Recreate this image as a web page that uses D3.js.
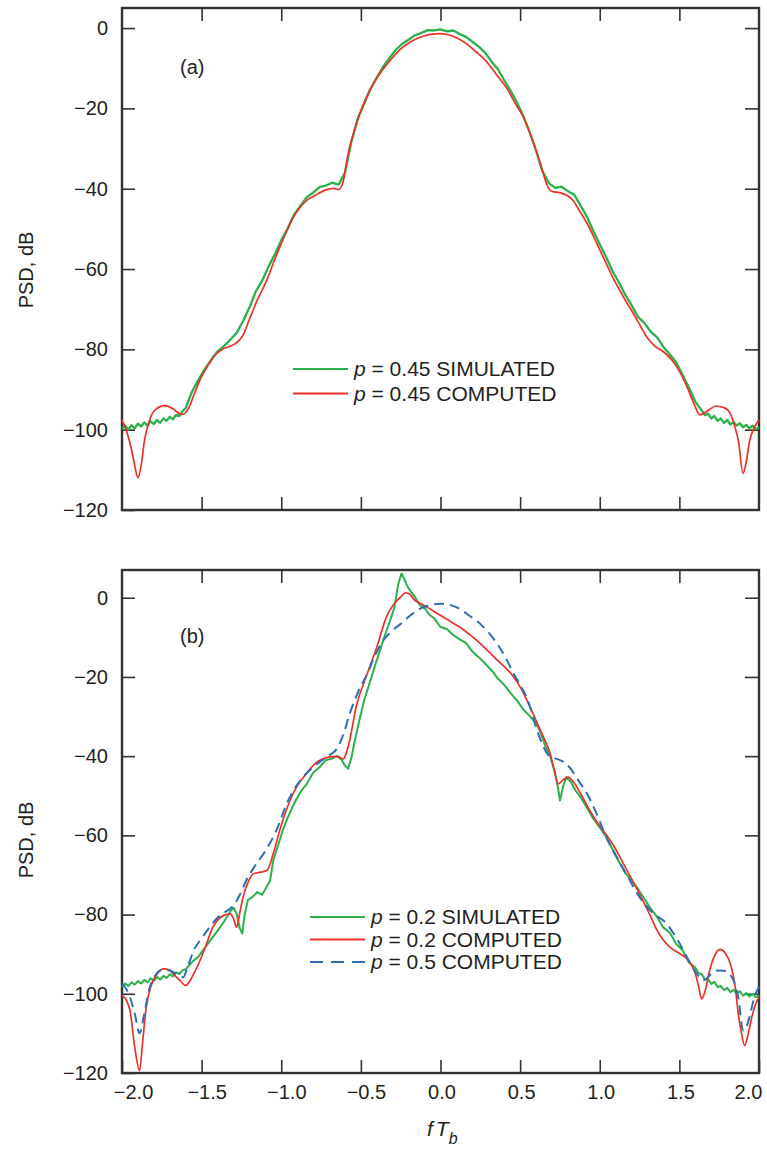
<!DOCTYPE html>
<html>
<head>
<meta charset="utf-8">
<script src="https://cdn.jsdelivr.net/npm/d3@7"></script>
<style>
body{margin:0;background:#fff}
svg{display:block;font-family:"Liberation Sans",Arial,Helvetica,sans-serif}
</style>
</head>
<body>
<svg id="chart" width="767" height="1150"></svg>
<script>
// ===== DATA =====
// x ticks (fT_b) and y ticks (PSD, dB)
const xTicks = [-2.0,-1.5,-1.0,-0.5,0.0,0.5,1.0,1.5,2.0]
const yTicks = [0,-20,-40,-60,-80,-100,-120]

// panel (a): p = 0.45
const aSim = [
[-2.00,-99.8],[-1.98,-99.0],[-1.96,-100.0],[-1.94,-98.9],[-1.92,-99.7],[-1.90,-98.5],[-1.88,-99.2],
[-1.86,-98.2],[-1.84,-99.0],[-1.82,-97.9],[-1.80,-98.6],[-1.78,-97.6],[-1.76,-98.3],[-1.74,-97.2],
[-1.72,-97.8],[-1.70,-96.8],[-1.68,-97.4],[-1.66,-96.3],[-1.64,-96.6],[-1.62,-95.4],[-1.60,-94.6],
[-1.56,-90.5],[-1.52,-87.6],[-1.48,-84.9],
[-1.44,-82.6],[-1.40,-80.5],[-1.36,-79.2],[-1.32,-77.6],[-1.28,-75.9],[-1.24,-73.0],[-1.20,-69.6],
[-1.16,-65.6],[-1.12,-62.9],[-1.08,-59.4],[-1.04,-56.3],[-1.00,-52.8],[-0.96,-49.9],[-0.92,-46.5],
[-0.88,-44.3],[-0.84,-42.1],[-0.80,-41.0],[-0.76,-39.6],[-0.72,-39.2],[-0.68,-38.5],[-0.64,-39.0],
[-0.60,-36.0],[-0.56,-28.4],[-0.52,-22.5],[-0.48,-18.9],[-0.44,-15.1],[-0.40,-12.3],[-0.36,-9.6],
[-0.32,-7.4],[-0.28,-5.4],[-0.24,-3.9],[-0.20,-2.9],[-0.16,-1.8],[-0.12,-1.2],[-0.08,-0.5],
[-0.04,-0.6],[0.00,-0.3],[0.04,-0.8],[0.08,-0.6],[0.12,-1.5],[0.16,-2.2],[0.20,-3.4],[0.24,-4.6],
[0.28,-6.1],[0.32,-8.3],[0.36,-10.2],[0.40,-13.0],[0.44,-15.6],[0.48,-18.5],[0.52,-21.9],
[0.56,-25.9],[0.60,-30.5],[0.64,-35.6],[0.68,-38.6],[0.72,-39.8],[0.76,-39.5],[0.80,-40.6],
[0.84,-41.5],[0.88,-44.2],[0.92,-47.0],[0.96,-50.6],[1.00,-53.8],[1.04,-57.0],[1.08,-60.5],
[1.12,-63.3],[1.16,-66.4],[1.20,-69.0],[1.24,-71.9],[1.28,-73.4],[1.32,-75.6],[1.36,-77.0],
[1.40,-79.4],[1.44,-81.3],[1.48,-83.2],[1.52,-86.4],[1.56,-89.5],[1.60,-93.0],[1.64,-95.2],
[1.66,-96.4],[1.68,-96.0],[1.70,-97.2],[1.72,-96.6],[1.74,-97.8],[1.76,-97.2],[1.78,-98.3],
[1.80,-97.6],[1.82,-98.7],[1.84,-98.1],[1.86,-99.0],[1.88,-98.4],[1.90,-99.4],[1.92,-98.8],
[1.94,-99.7],[1.96,-99.0],[1.98,-99.9],[2.00,-99.4]
]
const aComp = [
[-2.00,-97.6],[-1.97,-100.5],[-1.94,-105],[-1.92,-109],[-1.90,-112],[-1.88,-109],[-1.86,-103],
[-1.83,-98],[-1.79,-95],[-1.73,-94],[-1.68,-94.8],[-1.64,-96],[-1.62,-96.2],[-1.58,-94.5],
[-1.55,-91.5],[-1.51,-87.6],[-1.46,-84],[-1.41,-81.2],[-1.36,-79.8],[-1.32,-79.2],[-1.28,-78.3],
[-1.24,-76.5],[-1.20,-72.5],[-1.15,-67.7],[-1.09,-62.7],[-1.04,-57.5],[-0.99,-52.8],[-0.93,-47.5],
[-0.88,-44.5],[-0.83,-42.6],[-0.78,-41.5],[-0.72,-40.3],[-0.67,-39.9],[-0.64,-40.2],[-0.61,-38.0],
[-0.59,-33.5],[-0.57,-29.5],[-0.54,-25.5],[-0.51,-21.7],[-0.46,-16.8],[-0.42,-13.8],[-0.36,-10.2],
[-0.30,-7.3],[-0.25,-5.2],[-0.17,-3.0],[-0.10,-1.9],[-0.05,-1.5],[0.00,-1.4],[0.04,-1.6],
[0.10,-2.4],[0.16,-3.8],[0.22,-5.8],[0.29,-8.4],[0.35,-11.5],[0.42,-15.2],[0.47,-18.8],
[0.52,-22.1],[0.56,-26.0],[0.60,-30.4],[0.64,-35.5],[0.67,-39.2],[0.70,-40.7],[0.75,-41.0],
[0.80,-41.8],[0.83,-42.8],[0.88,-46.0],[0.92,-48.6],[0.98,-53.5],[1.04,-58.6],[1.09,-62.7],
[1.16,-67.7],[1.21,-71.0],[1.26,-74.5],[1.30,-77.2],[1.35,-79.3],[1.40,-80.6],[1.45,-82.5],
[1.50,-85.4],[1.55,-89.5],[1.59,-93.4],[1.63,-96.3],[1.68,-95.2],[1.73,-94.1],[1.78,-94.5],
[1.82,-96.0],[1.85,-99.5],[1.87,-102.6],[1.90,-110.9],[1.92,-108],[1.94,-103],[1.97,-99.5],
[2.00,-97.6]
]

// panel (b): p = 0.2 simulated, p = 0.2 computed, p = 0.5 computed
const bSim = [
[-2.00,-98.3],[-1.98,-97.4],[-1.96,-98.0],[-1.94,-97.1],[-1.92,-97.7],[-1.90,-96.8],[-1.88,-97.4],
[-1.86,-96.5],[-1.84,-97.1],[-1.82,-96.1],[-1.80,-96.7],[-1.78,-95.8],[-1.76,-96.4],[-1.74,-95.5],
[-1.72,-96.0],[-1.70,-95.1],[-1.68,-95.6],[-1.66,-94.6],[-1.64,-95.0],[-1.62,-94.1],[-1.60,-93.8],
[-1.56,-92.0],[-1.52,-90.6],[-1.48,-88.4],
[-1.44,-86.2],[-1.40,-84.1],[-1.36,-81.8],[-1.32,-79.2],[-1.30,-78.2],[-1.28,-79.8],[-1.26,-83.5],
[-1.245,-84.8],[-1.23,-80.0],[-1.21,-76.4],[-1.18,-75.5],[-1.15,-74.3],[-1.12,-75.0],[-1.10,-73.6],
[-1.07,-71.4],[-1.05,-66.3],[-1.02,-62.5],[-0.99,-58.7],[-0.96,-55.6],[-0.92,-52.0],[-0.88,-49.1],
[-0.84,-47.0],[-0.80,-44.2],[-0.76,-42.8],[-0.72,-41.0],[-0.68,-40.6],[-0.65,-39.9],[-0.62,-41.0],
[-0.60,-42.4],[-0.58,-43.2],[-0.56,-40.5],[-0.54,-36.5],[-0.51,-31.0],[-0.48,-26.0],[-0.44,-20.9],
[-0.41,-17.0],[-0.38,-13.3],[-0.35,-9.6],[-0.32,-6.2],[-0.29,-2.5],[-0.265,3.5],[-0.245,6.1],
[-0.23,5.0],[-0.21,3.0],[-0.19,1.8],[-0.16,0.2],[-0.13,-1.9],[-0.10,-2.6],[-0.07,-4.3],
[-0.04,-5.2],[0.00,-7.4],[0.04,-7.9],[0.08,-9.4],[0.12,-10.5],[0.16,-11.4],[0.20,-13.6],
[0.24,-15.0],[0.28,-16.6],[0.32,-18.3],[0.36,-20.4],[0.40,-22.0],[0.44,-24.1],[0.48,-25.9],
[0.52,-28.2],[0.56,-29.9],[0.60,-31.7],[0.63,-34.2],[0.66,-37.6],[0.69,-40.2],[0.72,-44.4],
[0.74,-48.5],[0.75,-51.2],[0.77,-47.6],[0.79,-45.3],[0.82,-46.6],[0.85,-48.8],[0.88,-50.4],
[0.92,-53.0],[0.96,-55.8],[1.00,-58.0],[1.04,-60.4],[1.08,-63.5],[1.12,-66.6],[1.16,-69.5],
[1.20,-71.3],[1.24,-73.5],[1.28,-76.0],[1.32,-78.5],[1.36,-80.6],[1.40,-83.3],[1.44,-84.6],
[1.48,-87.4],[1.52,-89.0],[1.56,-92.1],[1.60,-93.4],[1.62,-94.8],[1.64,-95.0],[1.66,-96.4],
[1.68,-96.3],[1.70,-97.5],[1.72,-97.0],[1.74,-98.3],[1.76,-98.0],[1.78,-99.1],[1.80,-98.5],
[1.82,-99.6],[1.84,-99.0],[1.86,-100.0],[1.88,-99.4],[1.90,-100.5],[1.92,-99.8],[1.94,-100.7],
[1.96,-100.0],[1.98,-100.9],[2.00,-100.4]
]
const bComp = [
[-2.00,-100.4],[-1.97,-101.8],[-1.95,-104.2],[-1.92,-113.5],[-1.89,-119.4],[-1.87,-112],
[-1.85,-104],[-1.82,-98.3],[-1.78,-95.0],[-1.74,-93.7],[-1.70,-94.0],[-1.68,-94.9],[-1.64,-96.5],
[-1.60,-97.9],[-1.57,-96.5],[-1.54,-94.2],[-1.51,-91.6],[-1.47,-87.5],[-1.43,-83.2],[-1.39,-81.0],
[-1.36,-80.2],[-1.32,-79.8],[-1.30,-81.0],[-1.28,-83.2],[-1.26,-79.5],[-1.24,-75.6],[-1.21,-72],
[-1.175,-69.7],[-1.13,-69.3],[-1.09,-68.9],[-1.05,-64.6],[-1.01,-58.8],[-0.945,-51.2],[-0.90,-47.5],
[-0.86,-45.3],[-0.81,-42.8],[-0.76,-41.1],[-0.71,-40.3],[-0.67,-40.1],[-0.64,-40.2],[-0.61,-40.7],
[-0.59,-39],[-0.57,-36.0],[-0.53,-27.6],[-0.46,-19.2],[-0.40,-12.5],[-0.34,-4.9],[-0.30,-2],
[-0.25,0.2],[-0.22,1.2],[-0.19,0.8],[-0.17,-0.3],[-0.12,-1.6],[-0.05,-3.2],[0.03,-5.2],
[0.12,-7.4],[0.19,-9.5],[0.25,-11.6],[0.35,-15.5],[0.45,-19.5],[0.50,-22.5],[0.55,-26.5],
[0.60,-31],[0.65,-35.5],[0.69,-39.5],[0.71,-42.8],[0.74,-47.0],[0.77,-46.0],[0.80,-45.3],
[0.84,-46.8],[0.88,-49.5],[0.93,-53.2],[0.98,-56.5],[1.04,-59.8],[1.09,-62.8],[1.14,-66.5],
[1.20,-71],[1.27,-76.4],[1.32,-80.5],[1.36,-84.0],[1.40,-86.5],[1.44,-88.2],[1.50,-89.8],
[1.55,-91.2],[1.58,-93],[1.60,-94.9],[1.62,-98],[1.64,-101.3],[1.66,-99.5],[1.69,-94.1],
[1.72,-90.5],[1.755,-88.8],[1.79,-89.8],[1.82,-92.4],[1.85,-98],[1.87,-105.1],[1.89,-110],
[1.91,-113.1],[1.93,-110.5],[1.955,-105.9],[1.98,-102.5],[2.00,-100.9]
]
const bComp05 = [
[-2.00,-97.5],[-1.97,-99],[-1.95,-100.9],[-1.92,-105],[-1.89,-110],[-1.86,-105],[-1.83,-99],
[-1.79,-95.3],[-1.76,-94.1],[-1.72,-94.0],[-1.68,-94.5],[-1.64,-95.6],[-1.615,-95.8],[-1.59,-93.5],
[-1.55,-89.1],[-1.50,-86.0],[-1.45,-83.2],[-1.40,-80.8],[-1.35,-79.3],[-1.30,-77.7],[-1.26,-75],
[-1.22,-71.4],[-1.17,-68],[-1.11,-64.6],[-1.03,-58.7],[-0.96,-51.5],[-0.88,-46.1],[-0.82,-43.5],
[-0.76,-41.5],[-0.70,-39.8],[-0.65,-38.1],[-0.61,-34.5],[-0.57,-29.3],[-0.52,-24],[-0.46,-19.2],
[-0.41,-14.5],[-0.36,-10.8],[-0.30,-8.2],[-0.25,-6.6],[-0.19,-4.5],[-0.13,-2.8],[-0.06,-1.8],
[0.00,-1.5],[0.06,-1.8],[0.12,-2.8],[0.18,-4.5],[0.25,-6.6],[0.31,-9.2],[0.37,-12.5],
[0.42,-16.0],[0.46,-19.2],[0.50,-22.0],[0.54,-25.1],[0.57,-28.5],[0.60,-32.7],[0.64,-37.0],
[0.67,-39.4],[0.70,-40.3],[0.73,-40.7],[0.77,-41.4],[0.81,-42.8],[0.86,-45.8],[0.92,-49.5],
[0.98,-54.5],[1.04,-60.4],[1.10,-65.0],[1.17,-70.0],[1.25,-75.6],[1.33,-79.5],[1.42,-82.3],
[1.49,-86.5],[1.57,-92.4],[1.62,-95.5],[1.65,-96.6],[1.70,-95.0],[1.74,-94.1],[1.78,-94.2],
[1.82,-95.2],[1.84,-96.6],[1.87,-101],[1.90,-109.3],[1.92,-108.5],[1.94,-105.9],[1.97,-101],
[2.00,-98.3]
]

const legendA = ["= 0.45 SIMULATED","= 0.45 COMPUTED"]
const legendB = ["= 0.2 SIMULATED","= 0.2 COMPUTED","= 0.5 COMPUTED"]

// ===== STYLE =====
const GREEN = "#2bb04a"
const RED = "#ec3127"
const BLUE = "#2f6db6"
const INK = "#231f20"
const FRAME = "#333"

const svg = d3.select("#chart")

const x = d3.scaleLinear().domain([-2,2]).range([122,759])

function panel(cfg){
  const y = d3.scaleLinear().domain([-120,cfg.top]).range([cfg.y1,cfg.y0])
  const g = svg.append("g")

  // ticks inward on all four sides
  g.append("g").attr("transform",`translate(122,0)`)
    .call(d3.axisLeft(y).tickValues(yTicks).tickSize(-13).tickPadding(14).tickFormat(d3.format("d")))
  g.append("g").attr("transform",`translate(759,0)`)
    .call(d3.axisRight(y).tickValues(yTicks.slice(0,-1)).tickSize(-14).tickFormat(""))
  g.append("g").attr("transform",`translate(0,${cfg.y0})`)
    .call(d3.axisTop(x).tickValues(xTicks.slice(1,-1)).tickSize(-13).tickFormat(""))
  const xb = g.append("g").attr("transform",`translate(0,${cfg.y1})`)
    .call(d3.axisBottom(x).tickValues(cfg.xlabels ? xTicks : xTicks.slice(1,-1))
      .tickSize(-13).tickPadding(12).tickFormat(cfg.xlabels ? d3.format(".1f") : ""))

  g.selectAll(".domain").remove()
  g.selectAll(".tick line").attr("stroke",FRAME).attr("stroke-width",1.6)
  g.selectAll(".tick text").attr("fill",INK).style("font-size","20px").attr("font-family",null)

  // label nudges so corner labels clear the frame
  xb.selectAll(".tick text").attr("dx",d=> d===-2 ? 11 : d===2 ? -11 : d<0 ? 5 : 1)

  // frame
  g.append("rect")
    .attr("x",122).attr("y",cfg.y0)
    .attr("width",759-122).attr("height",cfg.y1-cfg.y0)
    .attr("fill","none").attr("stroke",FRAME).attr("stroke-width",2.4)

  const line = d3.line().x(d=>x(d[0])).y(d=>y(d[1]))
  const smooth = d3.line().x(d=>x(d[0])).y(d=>y(d[1])).curve(d3.curveMonotoneX)

  cfg.series.forEach(s=>{
    g.append("path").datum(s.data)
      .attr("fill","none")
      .attr("stroke",s.color)
      .attr("stroke-width",s.w)
      .attr("stroke-dasharray",s.dash || null)
      .attr("stroke-linejoin","round")
      .attr("d",s.noisy ? line : smooth)
  })

  // panel tag
  g.append("text").attr("x",180).attr("y",cfg.tagY)
    .attr("fill",INK).style("font-size","20px").text(cfg.tag)

  // y label
  g.append("text")
    .attr("transform",`translate(33,${cfg.labelY}) rotate(-90)`)
    .attr("text-anchor","middle").attr("fill",INK).style("font-size","20px")
    .text("PSD, dB")

  // legend
  const lg = g.append("g")
  cfg.series.forEach((s,i)=>{
    const ly = cfg.legY + i*cfg.legStep
    lg.append("line")
      .attr("x1",cfg.legX).attr("x2",cfg.legX+55)
      .attr("y1",ly).attr("y2",ly)
      .attr("stroke",s.color).attr("stroke-width",2.2)
      .attr("stroke-dasharray",s.dash ? "13,8" : null)
    const t = lg.append("text").attr("x",cfg.legX+61).attr("y",ly+7)
      .attr("fill",INK).style("font-size","21px")
    t.append("tspan").attr("font-style","italic").text("p")
    t.append("tspan").text(" "+cfg.legend[i])
  })
}

panel({
  top:5, y0:8, y1:510, tag:"(a)", tagY:74, labelY:270,
  legX:293, legY:369, legStep:24.5, legend:legendA, xlabels:false,
  series:[
    {data:aSim, color:GREEN, w:2.3, noisy:true},
    {data:aComp, color:RED, w:1.7}
  ]
})

panel({
  top:7, y0:570, y1:1073, tag:"(b)", tagY:643, labelY:840,
  legX:310, legY:917, legStep:22.5, legend:legendB, xlabels:true,
  series:[
    {data:bSim, color:GREEN, w:2.0, noisy:true},
    {data:bComp, color:RED, w:1.7},
    {data:bComp05, color:BLUE, w:2.0, dash:"10,6"}
  ]
})

// x-axis title fT_b
const xt = svg.append("text").attr("x",427).attr("y",1136)
  .attr("fill",INK).style("font-size","21px").attr("font-style","italic")
xt.append("tspan").text("f")
xt.append("tspan").attr("dx",3).text("T")
xt.append("tspan").attr("dy",8).style("font-size","16px").text("b")
</script>
</body>
</html>
